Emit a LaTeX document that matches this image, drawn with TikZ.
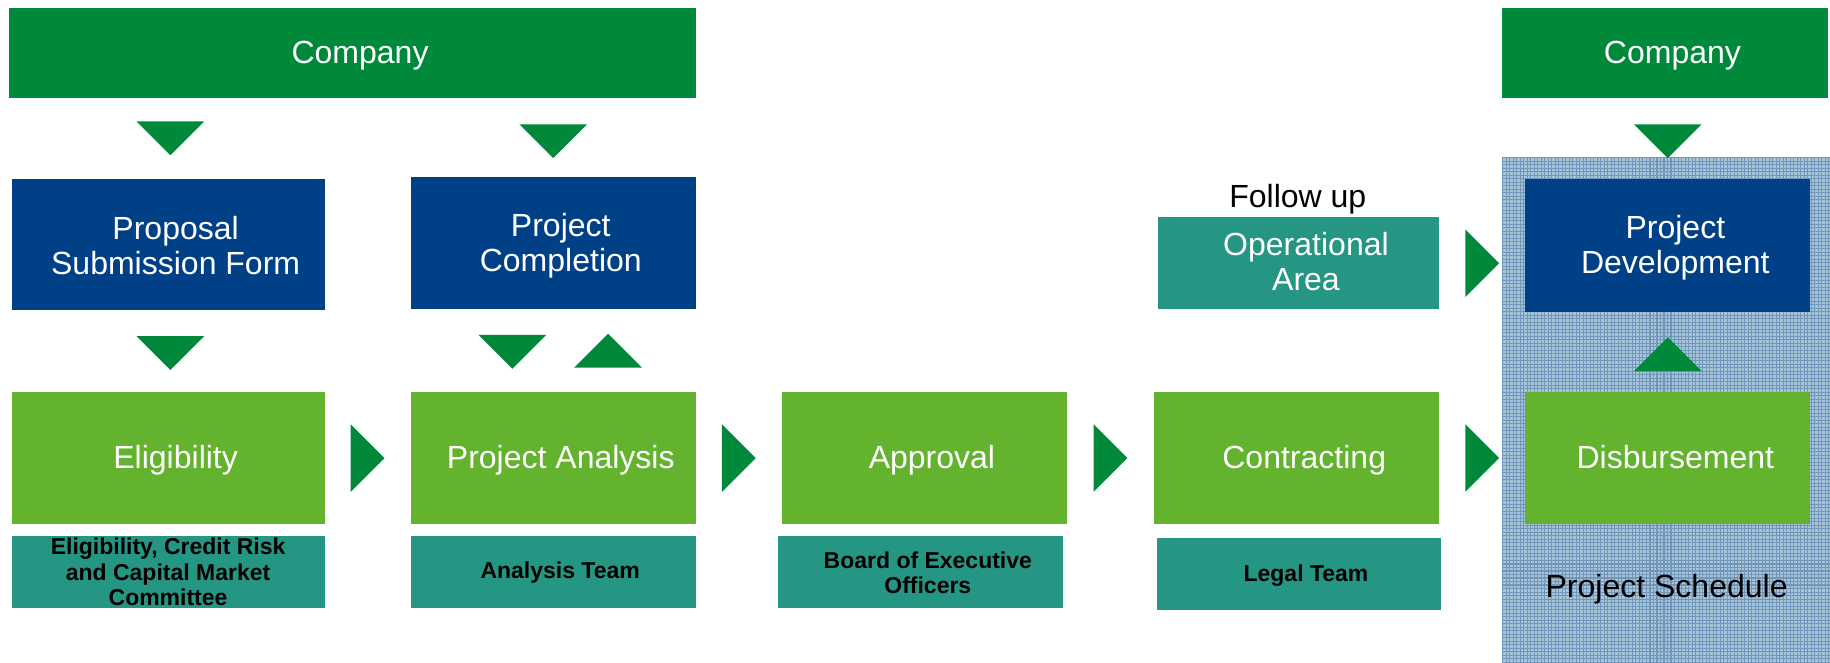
\documentclass[tikz,border=0pt]{standalone}
\usepackage{fontspec}
\setmainfont{Liberation Sans}
\usepackage{tikz}
\usetikzlibrary{positioning,calc}
\definecolor{cogreen}{RGB}{0,137,59}
\definecolor{pblue}{RGB}{0,64,135}
\definecolor{lgreen}{RGB}{99,179,46}
\definecolor{teal}{RGB}{38,150,132}
\definecolor{panelbg}{RGB}{168,196,216}
\definecolor{panelln}{RGB}{112,150,186}
\tikzset{
  box/.style={fill=#1,inner sep=0pt},
  txt/.style={text=white,align=center,inner sep=0pt,font=\fontsize{7.8}{8.5}\selectfont,xshift=0.065cm,yshift=-0.02cm},
  oneline/.style={txt,text depth=1.65pt},
  team/.style={fill=teal,inner sep=0pt,minimum width=2.44cm,minimum height=0.62cm},
  teamtxt/.style={text=black,align=center,inner sep=0pt,font=\fontsize{5.6}{6.2}\selectfont\bfseries,xshift=0.06cm,yshift=-0.01cm},
  tri/.pic={\fill[cogreen] (-29,-14.5) -- (29,-14.5) -- (0,14.5) -- cycle;}
}
\begin{document}
\begin{tikzpicture}[line cap=round,line join=round,x=0.01cm,y=-0.01cm]
		\useasboundingbox (0,0) rectangle (1568,568);
		%\draw[help lines] (0,0) grid (1568,568);
		% schedule panel
		\fill[panelbg] (1287,135) rectangle (1568,568);
		\begin{scope}
		\clip (1287,135) rectangle (1568,568);
		\draw[panelln,line width=0.25pt,step=0.03cm] (1287,135) grid (1568,568);
		\end{scope}
		\node[box=cogreen,minimum width=5.88cm,minimum height=0.77cm,label={[oneline]center:Company}] (comp) at (302,45.5) {};
		\node[box=cogreen,minimum width=2.79cm,minimum height=0.77cm,label={[oneline]center:Company}] (comp2) at (1426.5,45.5) {};
		% upper row
		\node[box=pblue,minimum width=2.68cm,minimum height=1.13cm,label={[txt,yshift=0.01cm]center:{Proposal\\Submission Form}}] (form) at (144,209.5) {};
		\node[box=pblue,minimum width=2.44cm,minimum height=1.13cm,label={[txt]center:{Project\\Completion}}] (compl) at (474,208.5) {};
		\node[box=teal,minimum width=2.41cm,minimum height=0.79cm,label={[txt,yshift=0.03cm]center:{Operational\\Area}}] (oper) at (1112.5,225.5) {};
		\node[font=\fontsize{7.8}{8.5}\selectfont] (follow) at (1112,171) {Follow up};
		\node[box=pblue,minimum width=2.44cm,minimum height=1.14cm,label={[txt]center:{Project\\Development}}] (devel) at (1429,210) {};
		% main row
		\node[box=lgreen,minimum width=2.68cm,minimum height=1.13cm,label={[oneline]center:Eligibility}] (elig) at (144,392.5) {};
		\node[box=lgreen,minimum width=2.44cm,minimum height=1.13cm,label={[oneline]center:Project Analysis}] (anal) at (474,392.5) {};
		\node[box=lgreen,minimum width=2.44cm,minimum height=1.13cm,label={[oneline]center:Approval}] (appr) at (792,392.5) {};
		\node[box=lgreen,minimum width=2.44cm,minimum height=1.13cm,label={[oneline]center:Contracting}] (contr) at (1111,392.5) {};
		\node[box=lgreen,minimum width=2.44cm,minimum height=1.13cm,label={[oneline]center:Disbursement}] (disb) at (1429,392.5) {};
		% teams
		\node[team,minimum width=2.68cm,label={[teamtxt,xshift=-0.06cm,yshift=0.01cm]center:{Eligibility, Credit Risk\\and Capital Market\\Committee}}] (t1) at (144,490) {};
		\node[team,label={[teamtxt]center:Analysis Team}] (t2) at (474,490) {};
		\node[team,label={[teamtxt]center:{Board of Executive\\Officers}}] (t3) at (789,490) {};
		\node[team,label={[teamtxt]center:Legal Team}] (t4) at (1113,492) {};
		\node[font=\fontsize{7.8}{8.5}\selectfont] (sched) at (1428,505) {Project Schedule};
		% triangles
		\pic at (146,118.5) {tri};
		\pic at (474,121) {tri};
		\pic at (1429,121) {tri};
		\pic at (146,302.5) {tri};
		\pic at (439,301.5) {tri};
		\pic[rotate=180] at (521,300.5) {tri};
		\pic[rotate=180] at (1429,303.5) {tri};
		\foreach \a/\b in {elig/anal,anal/appr,appr/contr,contr/disb,oper/devel}
		\pic[rotate=90] at ($(\a.east)!0.5!(\b.west |- \a.east)$) {tri};
\end{tikzpicture}
\end{document}
